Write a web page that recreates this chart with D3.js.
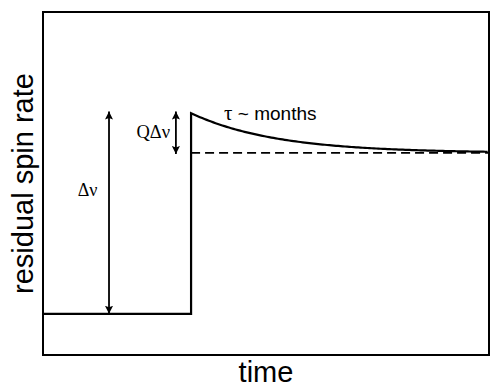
<!DOCTYPE html>
<html>
<head>
<meta charset="utf-8">
<script src="https://cdn.jsdelivr.net/npm/d3@7"></script>
<style>
  body { margin: 0; background: #fff; }
  text { font-family: "Liberation Sans", Arial, sans-serif; fill: #000; }
  .greek { font-family: "Liberation Serif", "Times New Roman", serif; }
</style>
</head>
<body>
<div id="root"></div>
<script>
var width = 498,
    height = 391,
    margin = { top: 12, right: 9, bottom: 36, left: 43 };

// schematic values (arbitrary units)
var glitchTime = [33.2];          // time of the glitch
var levels = [0.12, 0.705, 0.589]; // before, peak after, settled after
var decayTau = [19];              // relaxation time
var timeDomain = [0, 100];
var rateDomain = [0, 1];
var axisTitles = ["time", "residual spin rate"];

var x = d3.scaleLinear().domain(timeDomain).range([margin.left, width - margin.right]);
var y = d3.scaleLinear().domain(rateDomain).range([height - margin.bottom, margin.top]);

var svg = d3.select("#root").append("svg")
    .attr("width", width)
    .attr("height", height);

var defs = svg.append("defs");
defs.append("marker")
    .attr("id", "head")
    .attr("viewBox", "0 0 10 10")
    .attr("refX", 10).attr("refY", 5)
    .attr("markerWidth", 4.5).attr("markerHeight", 4.5)
    .attr("markerUnits", "strokeWidth")
    .attr("orient", "auto-start-reverse")
    .append("path")
    .attr("d", "M0,0 L10,5 L0,10 L2,5 Z")
    .attr("fill", "#000");

// frame
svg.append("rect")
    .attr("x", x(timeDomain[0]))
    .attr("y", y(rateDomain[1]))
    .attr("width", x(timeDomain[1]) - x(timeDomain[0]))
    .attr("height", y(rateDomain[0]) - y(rateDomain[1]))
    .attr("fill", "none")
    .attr("stroke", "#000")
    .attr("stroke-width", 2);

// step before glitch + jump
var t0 = glitchTime[0];
var before = [[timeDomain[0], levels[0]], [t0, levels[0]], [t0, levels[1]]];
var line = d3.line().x(function (d) { return x(d[0]); }).y(function (d) { return y(d[1]); });

// exponential relaxation after glitch
var after = d3.range(t0, timeDomain[1] + 0.01, 0.5).map(function (t) {
    return [t, levels[2] + (levels[1] - levels[2]) * Math.exp(-(t - t0) / decayTau[0])];
});

svg.append("path")
    .attr("d", line(before.concat(after)))
    .attr("fill", "none")
    .attr("stroke", "#000")
    .attr("stroke-width", 2.2)
    .attr("stroke-linejoin", "miter");

// settled level (dashed)
svg.append("path")
    .attr("d", line([[t0, levels[2]], [timeDomain[1], levels[2]]]))
    .attr("fill", "none")
    .attr("stroke", "#000")
    .attr("stroke-width", 1.8)
    .attr("stroke-dasharray", "9,5");

// double arrows
function arrow(t, v1, v2) {
    svg.append("line")
        .attr("x1", x(t)).attr("x2", x(t))
        .attr("y1", y(v1)).attr("y2", y(v2))
        .attr("stroke", "#000")
        .attr("stroke-width", 1.8)
        .attr("marker-start", "url(#head)")
        .attr("marker-end", "url(#head)");
}
arrow(14.8, levels[0], 0.71);
arrow(29.8, levels[2] - 0.003, 0.71);

svg.append("text").attr("class", "greek").attr("x", x(12.2)).attr("y", 196)
    .attr("text-anchor", "end").attr("font-size", 18).text("Δν");
svg.append("text").attr("class", "greek").attr("x", x(28.5)).attr("y", 138)
    .attr("text-anchor", "end").attr("font-size", 18.5).text("QΔν");
var tau = svg.append("text").attr("x", x(40.6)).attr("y", 120).attr("font-size", 19);
tau.append("tspan").attr("class", "greek").attr("font-size", 21).text("τ");
tau.append("tspan").text(" ~ months");

// axis titles
svg.append("text")
    .attr("x", (x(timeDomain[0]) + x(timeDomain[1])) / 2)
    .attr("y", 382)
    .attr("text-anchor", "middle")
    .attr("font-size", 29)
    .text(axisTitles[0]);

svg.append("text")
    .attr("transform", "translate(33," + (y(rateDomain[0]) + y(rateDomain[1])) / 2 + ") rotate(-90)")
    .attr("text-anchor", "middle")
    .attr("font-size", 29)
    .text(axisTitles[1]);
</script>
</body>
</html>
